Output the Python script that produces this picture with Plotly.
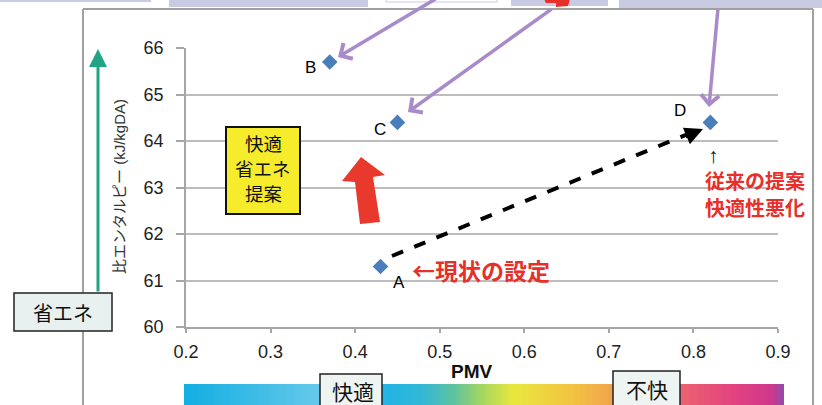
import numpy as np
import plotly.graph_objects as go

W, H = 822, 405

# ---- data ----
point_labels = ["A", "B", "C", "D"]
pmv = [0.43, 0.37, 0.45, 0.82]
enthalpy = [61.3, 65.7, 64.4, 64.4]
x_tick_vals = [0.2, 0.3, 0.4, 0.5, 0.6, 0.7, 0.8, 0.9]
x_tick_text = ["0.2", "0.3", "0.4", "0.5", "0.6", "0.7", "0.8", "0.9"]
y_tick_vals = [60, 61, 62, 63, 64, 65, 66]
y_tick_text = ["60", "61", "62", "63", "64", "65", "66"]
label_shift = {"A": (18, -16), "B": (-19, -6), "C": (-17, -7), "D": (-30, 12)}

LAT = "Liberation Sans, Arial, Noto Sans CJK JP"
JP = "Noto Sans CJK JP, Liberation Sans"

fig = go.Figure()

# main scatter
fig.add_trace(go.Scatter(
    x=pmv, y=enthalpy, mode="markers", xaxis="x", yaxis="y",
    marker=dict(symbol="diamond", size=12, color="#4a7ebb"),
    showlegend=False, hoverinfo="skip"))

# gradient bar (decoration) on pixel axes
n = 300
edges = np.linspace(184, 784, n + 1)
fig.add_trace(go.Heatmap(
    x=edges, y=[384, 407], z=[np.linspace(0, 1, n)], xaxis="x2", yaxis="y2",
    colorscale=[[0.0, "#12aee2"], [0.22, "#64c8ea"], [0.34, "#22b4e4"],
                [0.40, "#34b8d4"], [0.45, "#5fc2a0"], [0.50, "#aad85e"],
                [0.55, "#e8e83e"], [0.64, "#f2c640"], [0.72, "#f0a24e"],
                [0.83, "#ec6270"], [0.92, "#e2427e"], [0.98, "#d0388c"],
                [1.0, "#9848a8"]],
    showscale=False, hoverinfo="skip"))

shapes = []
def px_line(x0, y0, x1, y1, color, width, dash="solid"):
    shapes.append(dict(type="line", xref="x2", yref="y2", x0=x0, y0=y0, x1=x1, y1=y1,
                       line=dict(color=color, width=width, dash=dash)))
def px_rect(x0, y0, x1, y1, fill, lc=None, lw=0):
    shapes.append(dict(type="rect", xref="x2", yref="y2", x0=x0, y0=y0, x1=x1, y1=y1,
                       fillcolor=fill, line=dict(color=lc or fill, width=lw)))

# top slide fragments
px_rect(0, -3, 151, 2, "#c9cbe3")
px_rect(169, -3, 368, 7, "#c9cbe3")
px_rect(386, -3, 497, 2, "#ffffff", "#c9cbe3", 1)
px_rect(511, -3, 608, 6, "#c9cbe3")
px_rect(619, -3, 822, 8, "#c9cbe3")
shapes.append(dict(type="path", xref="x2", yref="y2",
                   path="M544,-1 L570,-1 L568,6 L556,7 L556,3 L546,3 Z",
                   fillcolor="#e8302a", line=dict(width=0)))

# outer frame
px_line(83, 9, 83, 406, "#a0a0a0", 2)
px_line(83, 9, 813, 9, "#a0a0a0", 2)
px_line(813, 9, 813, 406, "#a0a0a0", 2)

# boxes
px_rect(14, 293, 112, 331, "#e8f1ef", "#222222", 1.5)
px_rect(226, 127, 300, 214, "#f6ec2c", "#111111", 2)
px_rect(320, 374, 382, 410, "#eef4f2", "#222222", 1.5)
px_rect(613, 371, 680, 410, "#eef4f2", "#222222", 1.5)

# red thick arrow
shapes.append(dict(type="path", xref="x2", yref="y2",
                   path="M361,157 L385,175 L373,177 L380,222 L360,224 L355,182 L342,181 Z",
                   fillcolor="#e8392c", line=dict(width=0)))

# dashed black line
px_line(392, 256, 688, 134, "#000000", 4, "dash")

annotations = []
def txt(x, y, s, size, color="#000000", family=LAT, bold=False, angle=0):
    if bold:
        s = "<b>" + s + "</b>"
    annotations.append(dict(xref="x2", yref="y2", x=x, y=y, text=s, showarrow=False,
                            font=dict(size=size, color=color, family=family),
                            textangle=angle, xanchor="center", yanchor="middle",
                            align="center", borderpad=0))
def arrow(tx, ty, ax, ay, color, width, head, size=1.0):
    annotations.append(dict(xref="x2", yref="y2", axref="x2", ayref="y2",
                            x=tx, y=ty, ax=ax, ay=ay, text="", showarrow=True,
                            arrowcolor=color, arrowwidth=width, arrowhead=head,
                            arrowsize=size))

# point labels tied to data
for lab, xv, yv in zip(point_labels, pmv, enthalpy):
    dx, dy = label_shift[lab]
    annotations.append(dict(xref="x", yref="y", x=xv, y=yv, text=lab, showarrow=False,
                            xshift=dx, yshift=dy, font=dict(size=17, color="#000", family=LAT)))

# arrows
arrow(98, 49, 98, 293, "#1fa584", 3, 2, 1.2)
arrow(338, 57, 437, -2, "#a98bcb", 3.5, 4, 1.0)
arrow(408, 112, 553, 8, "#a98bcb", 3.5, 4, 1.0)
arrow(709, 107, 718, 8, "#a98bcb", 3.5, 4, 1.0)
arrow(703, 129, 684, 137, "#000000", 4, 2, 0.9)

# texts
txt(119, 187, "比エンタルピー (kJ/kgDA)", 15, "#333333", LAT, angle=-90)
txt(263, 143, "快適", 18.5, "#111", JP)
txt(263, 168, "省エネ", 18.5, "#111", JP)
txt(263, 193, "提案", 18.5, "#111", JP)
txt(63, 312, "省エネ", 20, "#111", JP)
txt(353, 391, "快適", 21, "#111", JP)
txt(647, 389, "不快", 21, "#111", JP)
txt(472, 371, "PMV", 19, "#111", LAT, bold=True)
txt(481, 270, "←現状の設定", 23, "#e8302a", JP, bold=True)
txt(713, 155, "↑", 21, "#111", LAT)
txt(755, 180, "従来の提案", 20, "#e8302a", JP, bold=True)
txt(755, 207, "快適性悪化", 20, "#e8302a", JP, bold=True)

fig.update_layout(
    width=W, height=H, margin=dict(l=0, r=0, t=0, b=0, pad=0, autoexpand=False),
    paper_bgcolor="#ffffff", plot_bgcolor="rgba(0,0,0,0)",
    font=dict(family=LAT, color="#222"),
    showlegend=False,
    xaxis=dict(domain=[186 / W, 778 / W], range=[0.2, 0.9], anchor="y",
               tickvals=x_tick_vals, ticktext=x_tick_text, showgrid=False, zeroline=False,
               showline=True, linecolor="#a6a6a6", linewidth=1.5,
               ticks="outside", ticklen=4, tickcolor="#a6a6a6", tickwidth=1.5,
               tickfont=dict(size=18, color="#222", family=LAT), ticklabelstandoff=4,
               automargin=False),
    yaxis=dict(domain=[1 - 327 / H, 1 - 48 / H], range=[60, 66], anchor="x",
               tickvals=y_tick_vals, ticktext=y_tick_text, showgrid=True,
               gridcolor="#bdbdbd", gridwidth=1.5, zeroline=False,
               showline=True, linecolor="#a6a6a6", linewidth=1.5,
               ticks="outside", ticklen=8, tickcolor="#a6a6a6", tickwidth=1.5,
               tickfont=dict(size=18, color="#222", family=LAT), ticklabelstandoff=9,
               automargin=False),
    xaxis2=dict(domain=[0, 1], range=[0, W], anchor="y2", visible=False, fixedrange=True,
                automargin=False),
    yaxis2=dict(domain=[0, 1], range=[H, 0], anchor="x2", visible=False, fixedrange=True,
                automargin=False),
    shapes=shapes, annotations=annotations,
)

fig.write_html("out.html", config={"displayModeBar": False},
               post_script="document.body.style.margin='0';document.body.style.overflow='hidden';")
